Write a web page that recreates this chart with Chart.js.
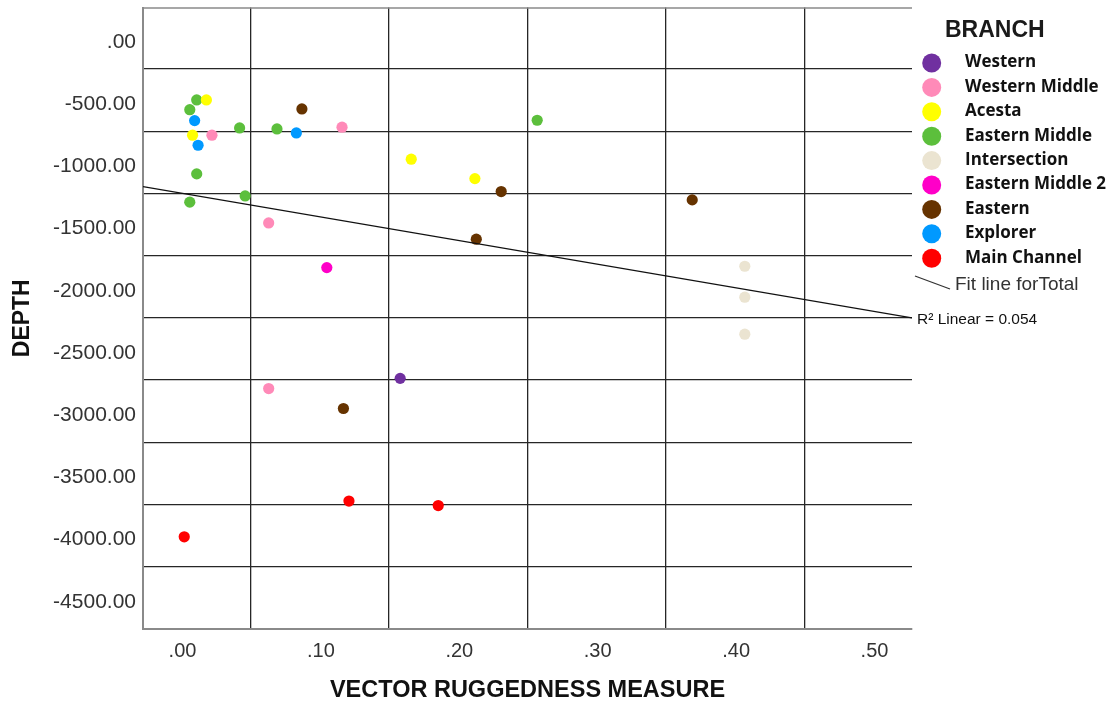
<!DOCTYPE html>
<html>
<head>
<meta charset="utf-8">
<script src="https://cdn.jsdelivr.net/npm/chart.js@4/dist/chart.umd.min.js"></script>
<style>
  html, body { margin: 0; padding: 0; background: #ffffff; }
  canvas { display: block; }
</style>
</head>
<body>
<canvas id="chart" width="1113" height="711"></canvas>
<script>
// Branch names and marker colours
const branchNames = ['Western', 'Western Middle', 'Acesta', 'Eastern Middle', 'Intersection',
                     'Eastern Middle 2', 'Eastern', 'Explorer', 'Main Channel'];
const branchColors = ['#7030a0', '#ff8ab8', '#ffff00', '#5cbf3c', '#ebe4d1',
                      '#ff00c8', '#663300', '#0099ff', '#ff0000'];

// Vector ruggedness measure (x) and depth (y) for each branch
const vrmWestern = [0.158];
const depthWestern = [-2736];
const vrmWesternMiddle = [0.022, 0.116, 0.063, 0.063];
const depthWesternMiddle = [-782, -718, -1487, -2818];
const vrmAcesta = [0.018, 0.008, 0.166, 0.212];
const depthAcesta = [-499, -782, -975, -1131];
const vrmEasternMiddle = [0.011, 0.006, 0.042, 0.069, 0.011, 0.046, 0.006, 0.257];
const depthEasternMiddle = [-499, -577, -724, -732, -1093, -1270, -1320, -662];
const vrmIntersection = [0.407, 0.407, 0.407];
const depthIntersection = [-1835, -2084, -2381];
const vrmEasternMiddle2 = [0.105];
const depthEasternMiddle2 = [-1846];
const vrmEastern = [0.087, 0.231, 0.213, 0.369, 0.117];
const depthEastern = [-571, -1235, -1618, -1302, -2978];
const vrmExplorer = [0.0095, 0.012, 0.083];
const depthExplorer = [-665, -863, -764];
const vrmMainChannel = [0.002, 0.121, 0.1855];
const depthMainChannel = [-4009, -3722, -3758];

// Linear fit over all points
const fitIntercept = -1248;
const fitSlope = -1900;
const fitR2 = '0.054';

// Axis ticks (labelled) and grid positions
const xTickValues = [0, 0.1, 0.2, 0.3, 0.4, 0.5];
const xGridValues = [0.05, 0.15, 0.25, 0.35, 0.45];
const yTickValues = [0, -500, -1000, -1500, -2000, -2500, -3000, -3500, -4000, -4500];
const yGridValues = [-250, -750, -1250, -1750, -2250, -2750, -3250, -3750, -4250];

const X_MIN = -0.0278, X_MAX = 0.5278;
const Y_MIN = -4750, Y_MAX = 244;

const seriesX = [vrmWestern, vrmWesternMiddle, vrmAcesta, vrmEasternMiddle, vrmIntersection,
                 vrmEasternMiddle2, vrmEastern, vrmExplorer, vrmMainChannel];
const seriesY = [depthWestern, depthWesternMiddle, depthAcesta, depthEasternMiddle, depthIntersection,
                 depthEasternMiddle2, depthEastern, depthExplorer, depthMainChannel];

const near = (a, list) => list.some(v => Math.abs(v - a) < 1e-6 * Math.max(1, Math.abs(v)));
const spssFmt = v => {
  const s = Math.abs(v) < 1e-9 ? '0.00' : v.toFixed(2);
  return s.replace(/^(-?)0\./, '$1.');
};

const datasets = branchNames.map((name, i) => ({
  type: 'scatter',
  label: name,
  data: seriesX[i].map((x, j) => ({ x: x, y: seriesY[i][j] })),
  backgroundColor: branchColors[i],
  borderWidth: 0,
  pointRadius: 5.6,
  pointHoverRadius: 5.6,
  order: 1
}));

datasets.push({
  type: 'line',
  label: 'Fit line for Total',
  data: [X_MIN, X_MAX].map(x => ({ x: x, y: fitIntercept + fitSlope * x })),
  borderColor: '#111111',
  borderWidth: 1.3,
  pointRadius: 0,
  fill: false,
  order: 0
});

const GRID_COLOR = '#262626';
const AXIS_FONT = '"Liberation Sans", Arial, sans-serif';

// Top frame line of the plot area
const topFrame = {
  id: 'topFrame',
  beforeDatasetsDraw(chart) {
    const { ctx, chartArea } = chart;
    ctx.save();
    ctx.strokeStyle = '#8a8a8a';
    ctx.lineWidth = 1.6;
    ctx.beginPath();
    ctx.moveTo(chartArea.left, chartArea.top + 0.5);
    ctx.lineTo(chartArea.right, chartArea.top + 0.5);
    ctx.stroke();
    ctx.restore();
  }
};

// Legend block on the right: branch key, fit line key, R² note
const branchLegend = {
  id: 'branchLegend',
  afterDraw(chart) {
    const { ctx } = chart;
    ctx.save();
    ctx.textBaseline = 'middle';
    ctx.textAlign = 'left';
    ctx.fillStyle = '#1a1a1a';
    ctx.font = 'bold 23px ' + AXIS_FONT;
    ctx.fillText('BRANCH', 945, 31);

    branchNames.forEach((name, i) => {
      const cy = 63 + i * 24.4;
      ctx.beginPath();
      ctx.fillStyle = branchColors[i];
      ctx.arc(931.7, cy, 9.5, 0, Math.PI * 2);
      ctx.fill();
      ctx.fillStyle = '#111111';
      ctx.font = 'bold 17px "Open Sans", Lato, sans-serif';
      ctx.fillText(name, 965, cy - 0.5);
    });

    ctx.strokeStyle = '#333333';
    ctx.lineWidth = 1.3;
    ctx.beginPath();
    ctx.moveTo(915, 276);
    ctx.lineTo(950, 289);
    ctx.stroke();
    ctx.fillStyle = '#333333';
    ctx.font = '19px ' + AXIS_FONT;
    ctx.fillText('Fit line forTotal', 955, 285);

    ctx.fillStyle = '#111111';
    ctx.font = '15.5px ' + AXIS_FONT;
    ctx.fillText('R\u00B2 Linear = ' + fitR2, 917, 320);
    ctx.restore();
  }
};

new Chart(document.getElementById('chart'), {
  type: 'scatter',
  data: { datasets },
  plugins: [topFrame, branchLegend],
  options: {
    responsive: false,
    animation: false,
    layout: { padding: { top: 7.5, right: 201, bottom: 0, left: 0 } },
    plugins: {
      legend: { display: false },
      tooltip: { enabled: false }
    },
    scales: {
      x: {
        type: 'linear',
        min: X_MIN,
        max: X_MAX,
        afterBuildTicks(axis) {
          axis.ticks = [...xTickValues, ...xGridValues].sort((a, b) => a - b).map(v => ({ value: v }));
        },
        afterFit(scale) {
          scale.height = 82;
          scale.paddingLeft = 0;
          scale.paddingRight = 0;
        },
        ticks: {
          autoSkip: false,
          maxRotation: 0,
          padding: 10,
          labelOffset: 1,
          color: '#333333',
          font: { family: AXIS_FONT, size: 20 },
          callback: v => near(v, xTickValues) ? spssFmt(v) : ''
        },
        grid: {
          drawTicks: false,
          lineWidth: 1.3,
          color: c => (c.tick && near(c.tick.value, xGridValues)) ? GRID_COLOR : 'rgba(0,0,0,0)'
        },
        border: { display: true, color: '#8a8a8a', width: 2 },
        title: {
          display: true,
          text: 'VECTOR RUGGEDNESS MEASURE',
          color: '#111111',
          font: { family: AXIS_FONT, size: 23.5, weight: 'bold' },
          padding: { top: 0, bottom: 6 }
        }
      },
      y: {
        type: 'linear',
        min: Y_MIN,
        max: Y_MAX,
        afterBuildTicks(axis) {
          axis.ticks = [...yTickValues, ...yGridValues].sort((a, b) => a - b).map(v => ({ value: v }));
        },
        afterFit(scale) {
          scale.width = 143;
          scale.paddingTop = 0;
          scale.paddingBottom = 0;
        },
        ticks: {
          autoSkip: false,
          padding: 7,
          labelOffset: 4,
          color: '#333333',
          font: { family: AXIS_FONT, size: 21 },
          callback: v => near(v, yTickValues) ? spssFmt(v) : ''
        },
        grid: {
          drawTicks: false,
          lineWidth: 1.3,
          color: c => (c.tick && near(c.tick.value, yGridValues)) ? GRID_COLOR : 'rgba(0,0,0,0)'
        },
        border: { display: true, color: '#8a8a8a', width: 2 },
        title: {
          display: true,
          text: 'DEPTH',
          color: '#111111',
          font: { family: AXIS_FONT, size: 23, weight: 'bold' },
          padding: { top: 9, bottom: 0 }
        }
      }
    }
  }
});
</script>
</body>
</html>
